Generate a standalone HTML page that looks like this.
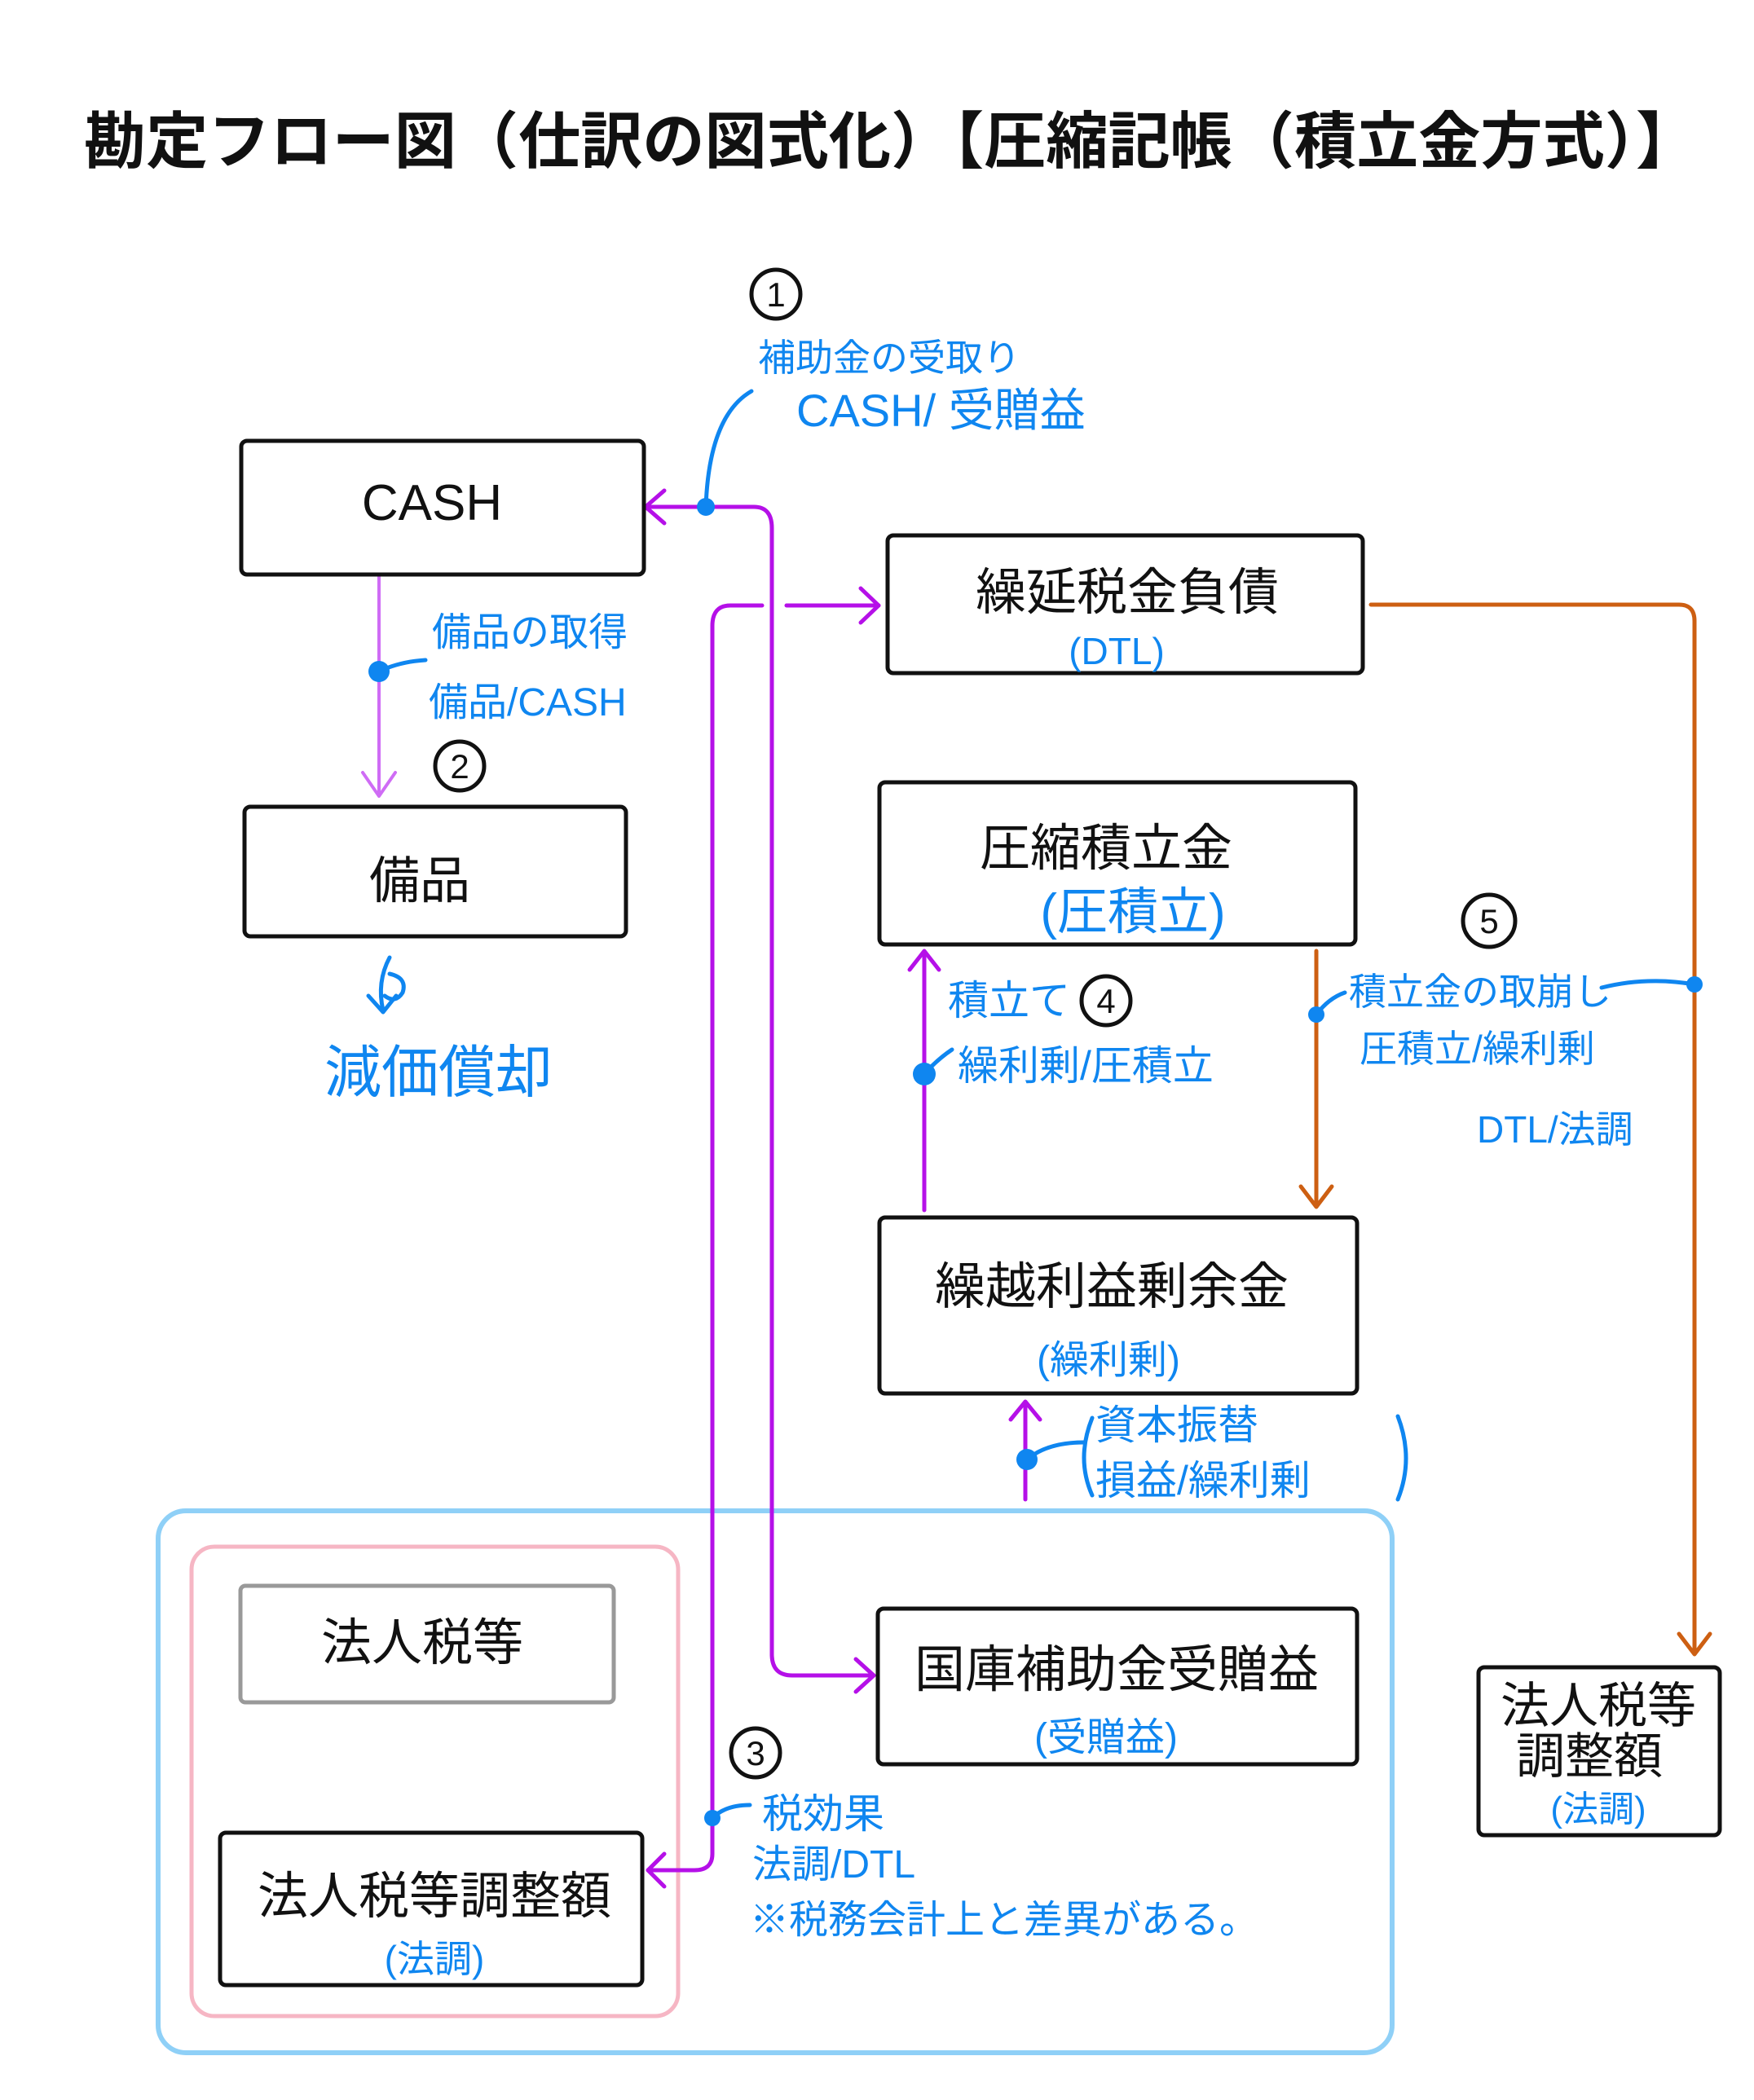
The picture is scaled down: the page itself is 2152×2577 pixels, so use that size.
<!DOCTYPE html>
<html><head><meta charset="utf-8"><style>
html,body{margin:0;padding:0;background:#fff;}
svg{display:block;}
text{font-family:"Liberation Sans","Noto Sans CJK JP",sans-serif;}
.b{fill:#111;}
.h{fill:#0f86f0;font-family:"Noto Sans CJK JP",sans-serif;}
</style></head><body>
<svg width="2152" height="2577" viewBox="0 0 2152 2577" xmlns="http://www.w3.org/2000/svg">
<rect width="2152" height="2577" fill="#fff"/>
<!-- title -->
<text x="103" y="200" font-size="76" font-weight="bold" textLength="1980" lengthAdjust="spacingAndGlyphs" class="b" style="font-family:'Noto Sans CJK JP',sans-serif">勘定フロー図（仕訳の図式化）【圧縮記帳（積立金方式）】</text>

<!-- group containers -->
<rect x="194" y="1854" width="1514" height="665" rx="34" fill="none" stroke="#8fd0f7" stroke-width="6"/>
<rect x="235" y="1898" width="597" height="576" rx="28" fill="none" stroke="#f6b6c4" stroke-width="5"/>

<!-- connectors -->
<g fill="none" stroke-linecap="round" stroke-linejoin="round">
<path d="M465 707 V975" stroke="#cf6cf5" stroke-width="4"/>
<path d="M445 948 L465 977 L485 948" stroke="#cf6cf5" stroke-width="4"/>
<path d="M792 622 H925 Q947 622 947 648 V2030 Q947 2056 972 2056 H1072" stroke="#b510e8" stroke-width="5"/>
<path d="M815 602 L792 622 L815 642" stroke="#b510e8" stroke-width="5"/>
<path d="M1050 2036 L1072 2056 L1050 2076" stroke="#b510e8" stroke-width="5"/>
<path d="M935 743 H896 Q874 743 874 768 V2275 Q874 2295 852 2295 H795" stroke="#b510e8" stroke-width="5"/>
<path d="M965 743 H1078" stroke="#b510e8" stroke-width="5"/>
<path d="M1056 722 L1078 743 L1056 764" stroke="#b510e8" stroke-width="5"/>
<path d="M815 2275 L795 2295 L815 2315" stroke="#b510e8" stroke-width="5"/>
<path d="M1134 1485 V1168" stroke="#b510e8" stroke-width="5"/>
<path d="M1116 1190 L1134 1167 L1152 1190" stroke="#b510e8" stroke-width="5"/>
<path d="M1258 1840 V1721" stroke="#b510e8" stroke-width="5"/>
<path d="M1240 1742 L1258 1720 L1276 1742" stroke="#b510e8" stroke-width="5"/>
<path d="M1682 742 H2060 Q2079 742 2079 762 V2028" stroke="#cd5f12" stroke-width="5"/>
<path d="M2060 2005 L2079 2030 L2098 2005" stroke="#cd5f12" stroke-width="5"/>
<path d="M1615 1167 V1480" stroke="#cd5f12" stroke-width="5"/>
<path d="M1596 1456 L1615 1481 L1634 1456" stroke="#cd5f12" stroke-width="5"/>
<g stroke="#0f86f0" stroke-width="5">
<path d="M866 622 Q870 510 922 480"/>
<path d="M465 824 Q490 812 522 810"/>
<path d="M1134 1318 Q1150 1300 1168 1288"/>
<path d="M1615 1245 Q1630 1225 1650 1218"/>
<path d="M2079 1208 Q2020 1198 1965 1212"/>
<path d="M1260 1791 Q1285 1770 1330 1770"/>
<path d="M874 2231 Q890 2215 920 2215"/>
<path d="M1340 1740 Q1320 1790 1340 1835"/>
<path d="M1715 1738 Q1735 1790 1715 1840"/>
<!-- depreciation arrow -->
<path d="M478 1175 Q462 1205 470 1240 M452 1222 L470 1242 L486 1222"/>
<path d="M478 1195 Q500 1200 494 1218 Q485 1232 472 1222"/>
</g>
</g>
<g fill="#0f86f0">
<circle cx="866" cy="622" r="11"/><circle cx="465" cy="824" r="13"/>
<circle cx="1134" cy="1318" r="14"/><circle cx="1615" cy="1245" r="10"/>
<circle cx="2079" cy="1208" r="10"/><circle cx="1260" cy="1791" r="13"/>
<circle cx="874" cy="2231" r="10"/>
</g>

<!-- boxes -->
<g fill="#fff" stroke="#111" stroke-width="5">
<rect x="296" y="541" width="494" height="164" rx="7"/>
<rect x="1089" y="657" width="583" height="169" rx="7"/>
<rect x="300" y="990" width="468" height="159" rx="7"/>
<rect x="1079" y="960" width="584" height="199" rx="7"/>
<rect x="1079" y="1494" width="586" height="216" rx="7"/>
<rect x="1077" y="1974" width="588" height="191" rx="7"/>
<rect x="270" y="2249" width="518" height="187" rx="7"/>
<rect x="1814" y="2046" width="296" height="206" rx="7"/>
</g>
<rect x="295" y="1946" width="458" height="143" rx="6" fill="#fff" stroke="#999" stroke-width="5"/>

<g class="b" font-size="62" text-anchor="middle" style="font-family:'Noto Sans CJK JP',sans-serif">
<text x="530" y="638" style="font-family:'Liberation Sans',sans-serif">CASH</text>
<text x="1383" y="748">繰延税金負債</text>
<text x="515" y="1102">備品</text>
<text x="1357" y="1062">圧縮積立金</text>
<text x="1364" y="1600">繰越利益剰余金</text>
<text x="1370" y="2070">国庫補助金受贈益</text>
<text x="518" y="2037">法人税等</text>
<text x="533" y="2348">法人税等調整額</text>
<text x="1961" y="2114" font-size="60">法人税等</text>
<text x="1950" y="2176" font-size="60">調整額</text>
</g>

<g class="h">
<text x="1370" y="815" font-size="46" text-anchor="middle">(DTL)</text>
<text x="1390" y="1140" font-size="62" text-anchor="middle">(圧積立)</text>
<text x="1360" y="1685" font-size="48" text-anchor="middle">(繰利剰)</text>
<text x="1357" y="2148" font-size="48" text-anchor="middle">(受贈益)</text>
<text x="533" y="2420" font-size="46" text-anchor="middle">(法調)</text>
<text x="1961" y="2235" font-size="44" text-anchor="middle">(法調)</text>

<text x="930" y="455" font-size="46">補助金の受取り</text>
<text x="977" y="523" font-size="56">CASH/ 受贈益</text>
<text x="530" y="792" font-size="48">備品の取得</text>
<text x="526" y="878" font-size="48">備品/CASH</text>
<text x="398" y="1340" font-size="70">減価償却</text>
<text x="1163" y="1245" font-size="50">積立て</text>
<text x="1175" y="1325" font-size="50">繰利剰/圧積立</text>
<text x="1655" y="1233" font-size="46">積立金の取崩し</text>
<text x="1668" y="1303" font-size="46">圧積立/繰利剰</text>
<text x="1812" y="1402" font-size="46">DTL/法調</text>
<text x="1344" y="1766" font-size="50">資本振替</text>
<text x="1344" y="1834" font-size="50">損益/繰利剰</text>
<text x="935" y="2243" font-size="50">税効果</text>
<text x="923" y="2304" font-size="48">法調/DTL</text>
<text x="920" y="2372" font-size="48">※税務会計上と差異がある。</text>
</g>

<g fill="none" stroke="#111" stroke-width="5">
<circle cx="952" cy="361" r="30"/><circle cx="564" cy="940" r="30"/>
<circle cx="1357" cy="1228" r="30"/><circle cx="1827" cy="1130" r="32"/>
<circle cx="927" cy="2151" r="30"/>
</g>
<g class="b" font-size="42" text-anchor="middle">
<text x="952" y="376">1</text><text x="564" y="955">2</text>
<text x="1357" y="1243">4</text><text x="1827" y="1145">5</text>
<text x="927" y="2166">3</text>
</g>
</svg>
</body></html>
